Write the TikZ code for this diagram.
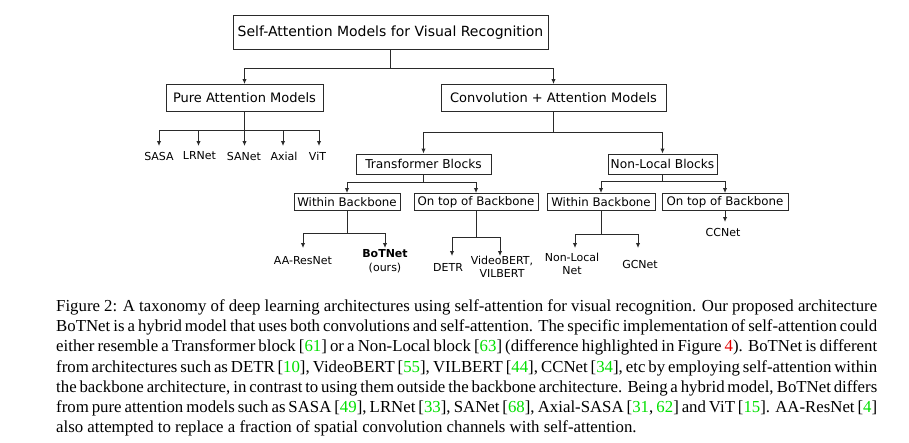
\documentclass[tikz,border=0pt]{standalone}
\usepackage{fontspec}
\newfontfamily\dfont{DejaVu Sans}
\newfontfamily\capfont{Liberation Serif}
\usetikzlibrary{arrows.meta}
\definecolor{linec}{HTML}{2A2A2A}
\definecolor{citec}{RGB}{0,225,0}
\definecolor{refc}{RGB}{230,0,0}
\newcommand{\cit}[1]{\textcolor{citec}{#1}}
\newcommand{\capline}[1]{\makebox[821pt][s]{#1}}
\begin{document}
\begin{tikzpicture}[x=1pt,y=-1pt,
  box/.style={draw=linec, line width=1pt, inner sep=0pt, text=black},
  lvA/.style={box, font=\dfont\fontsize{14}{16}\selectfont},
  lvB/.style={box, font=\dfont\fontsize{13}{15}\selectfont},
  lvC/.style={box, font=\dfont\fontsize{12.2}{14}\selectfont},
  lvD/.style={box, font=\dfont\fontsize{11.8}{14}\selectfont},
  ln/.style={draw=linec, line width=1pt},
  arr/.style={draw=linec, line width=1pt, -{Latex[length=5pt,width=4.5pt]}},
  leaf/.style={inner sep=0pt, text=black, font=\dfont\fontsize{11}{13.5}\selectfont, align=center}]
\useasboundingbox[fill=white] (0,0) rectangle (909,442);

% boxes
\node[lvA, minimum width=315pt, minimum height=34pt] (top) at (390.5,32.5) {Self-Attention Models for Visual Recognition};
\node[lvB, minimum width=157pt, minimum height=27pt] (pure) at (244.5,98) {Pure Attention Models};
\node[lvB, minimum width=225pt, minimum height=27pt] (conv) at (553.5,98) {Convolution + Attention Models};
\node[lvC, minimum width=135pt, minimum height=20pt] (tb) at (423.5,164) {Transformer Blocks};
\node[lvC, minimum width=109pt, minimum height=20pt] (nl) at (662.5,164) {Non-Local Blocks};
\node[lvD, minimum width=106pt, minimum height=17pt] (tw) at (347,202) {Within Backbone};
\node[lvD, minimum width=124pt, minimum height=17pt] (tt) at (476,202) {On top of Backbone};
\node[lvD, minimum width=108pt, minimum height=17pt] (nw) at (601,202) {Within Backbone};
\node[lvD, minimum width=126pt, minimum height=17pt] (nt) at (725,202) {On top of Backbone};

% leaves
\node[leaf] (sasa) at (159,156) {SASA};
\node[leaf] (lrnet) at (199.5,156) {LRNet};
\node[leaf] (sanet) at (244,156) {SANet};
\node[leaf] (axial) at (284,156) {Axial};
\node[leaf] (vit) at (317.5,156) {ViT};
\node[leaf] (aares) at (303,261) {AA-ResNet};
\node[leaf] (botnet) at (385,261) {\textbf{BoTNet}\\(ours)};
\node[leaf] (detr) at (448,267) {DETR};
\node[leaf] (video) at (502,267) {VideoBERT,\\VILBERT};
\node[leaf] (nln) at (572,264) {Non-Local\\Net};
\node[leaf] (gcnet) at (640,264) {GCNet};
\node[leaf] (ccnet) at (723,232) {CCNet};

% junctions and arrow ends
\coordinate (j0) at (390.5,68);
\coordinate (jp) at (244.5,130);
\coordinate (jc) at (553.5,132);
\coordinate (jt) at (423.5,182);
\coordinate (jn) at (662.5,181);
\coordinate (jtw) at (347,233);
\coordinate (jtt) at (476,237);
\coordinate (jnw) at (601,234);
\coordinate (e-sasa) at (159,146);
\coordinate (e-lrnet) at (198.5,146);
\coordinate (e-sanet) at (244.5,146);
\coordinate (e-axial) at (283,146);
\coordinate (e-vit) at (319,146);
\coordinate (e-aa) at (303,248);
\coordinate (e-bot) at (385,248);
\coordinate (e-detr) at (452,256);
\coordinate (e-video) at (500,256);
\coordinate (e-nln) at (575,248);
\coordinate (e-gc) at (638,248);
\coordinate (e-cc) at (725,222);

% connectors
\draw[ln] (top.south) -- (j0);
\draw[arr] (j0) -| (pure.north);
\draw[arr] (j0) -| (conv.north);

\draw[ln] (pure.south) -- (jp);
\draw[arr] (jp) -| (e-sasa);
\draw[arr] (jp) -| (e-lrnet);
\draw[arr] (jp) -- (e-sanet);
\draw[arr] (jp) -| (e-axial);
\draw[arr] (jp) -| (e-vit);

\draw[ln] (conv.south) -- (jc);
\draw[arr] (jc) -| (tb.north);
\draw[arr] (jc) -| (nl.north);

\draw[ln] (tb.south) -- (jt);
\draw[arr] (jt) -| (tw.north);
\draw[arr] (jt) -| (tt.north);

\draw[ln] (nl.south) -- (jn);
\draw[arr] (jn) -| (nw.north);
\draw[arr] (jn) -| (nt.north);

\draw[ln] (tw.south) -- (jtw);
\draw[arr] (jtw) -| (e-aa);
\draw[arr] (jtw) -| (e-bot);

\draw[ln] (tt.south) -- (jtt);
\draw[arr] (jtt) -| (e-detr);
\draw[arr] (jtt) -| (e-video);

\draw[ln] (nw.south) -- (jnw);
\draw[arr] (jnw) -| (e-nln);
\draw[arr] (jnw) -| (e-gc);

\draw[arr] (nt.south) -- (e-cc);

% caption
\node[anchor=north west, inner sep=0pt, align=left, text=black,
      font=\capfont\fontsize{16.8}{20.2}\selectfont] (caption) at (56,299.5) {%
\capline{Figure 2: A taxonomy of deep learning architectures using self-attention for visual recognition. Our proposed architecture}\\
\capline{BoTNet is a hybrid model that uses both convolutions and self-attention. The specific implementation of self-attention could}\\
\capline{either resemble a Transformer block [\cit{61}] or a Non-Local block [\cit{63}] (difference highlighted in Figure \textcolor{refc}{4}). BoTNet is different}\\
\capline{from architectures such as DETR [\cit{10}], VideoBERT [\cit{55}], VILBERT [\cit{44}], CCNet [\cit{34}], etc by employing self-attention within}\\
\capline{the backbone architecture, in contrast to using them outside the backbone architecture. Being a hybrid model, BoTNet differs}\\
\capline{from pure attention models such as SASA [\cit{49}], LRNet [\cit{33}], SANet [\cit{68}], Axial-SASA [\cit{31}, \cit{62}] and ViT [\cit{15}]. AA-ResNet [\cit{4}]}\\
also attempted to replace a fraction of spatial convolution channels with self-attention.};
\end{tikzpicture}
\end{document}
